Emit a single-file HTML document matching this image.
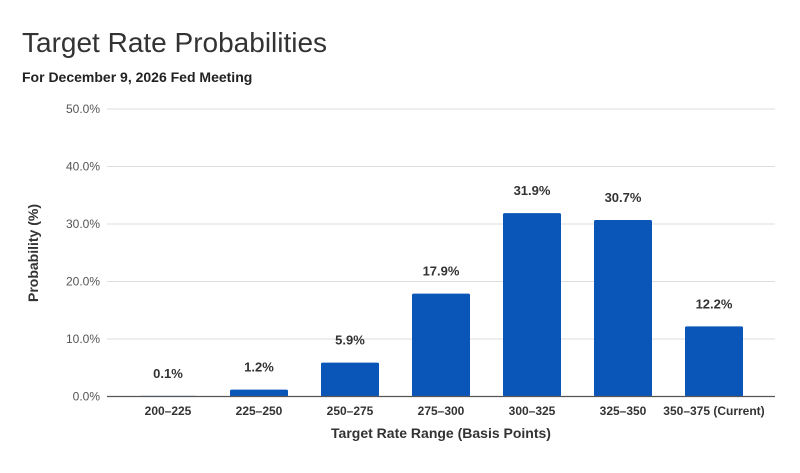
<!DOCTYPE html>
<html><head><meta charset="utf-8"><style>
body{margin:0;background:#fff;font-family:"Liberation Sans",Arial,sans-serif}
svg{display:block}
</style></head><body>
<svg width="800" height="473">
<text x="22" y="52" font-size="28" fill="#333">Target Rate Probabilities</text>
<text x="22" y="82" font-size="14" font-weight="bold" fill="#222">For December 9, 2026 Fed Meeting</text>
<g id="grid"></g><g id="bars"></g>
<text transform="translate(38,253) rotate(-90)" text-anchor="middle" font-size="14" font-weight="bold" fill="#333">Probability (%)</text>
<text x="441" y="438" text-anchor="middle" font-size="14" font-weight="bold" fill="#333">Target Rate Range (Basis Points)</text>
</svg>
<script>
const categories=["200–225","225–250","250–275","275–300","300–325","325–350","350–375 (Current)"];
const values=[0.1,1.2,5.9,17.9,31.9,30.7,12.2];
const labels=["0.1%","1.2%","5.9%","17.9%","31.9%","30.7%","12.2%"];
const yTicks=[0,10,20,30,40,50];
const ns="http://www.w3.org/2000/svg";
const y0=396.5,pxPer=5.75,bandL=122.5,bandW=91,barW=58;
const y=v=>y0-v*pxPer, xc=i=>bandL+bandW*(i+0.5);
function mk(t,a,p){const e=document.createElementNS(ns,t);for(const k in a)e.setAttribute(k,a[k]);p.appendChild(e);return e;}
const g=document.getElementById('grid'),b=document.getElementById('bars');
yTicks.forEach(t=>{
 if(t>0){const l=mk('line',{x1:107,x2:775,y1:y(t),y2:y(t),stroke:'#dcdcdc','stroke-width':1},g);
 
 }
 const tx=mk('text',{x:100,y:y(t)+4,'text-anchor':'end','font-size':12,fill:'#555'},g);tx.textContent=t.toFixed(1)+'%';
 
 
});
values.forEach((v,i)=>{
 const r=mk('rect',{x:xc(i)-barW/2,y:y(v),width:barW,height:Math.max(0,y0-y(v)),fill:'#0a56b8',rx:1.5},b);
 
 
 const lt=mk('text',{x:xc(i),y:y(v)-18,'text-anchor':'middle','font-size':13,'font-weight':'bold',fill:'#333'},b);lt.textContent=labels[i];
 
 
 const ct=mk('text',{x:xc(i),y:415,'text-anchor':'middle','font-size':12,'font-weight':'bold',fill:'#333'},b);ct.textContent=categories[i];
 
 
});
const ax=mk('line',{x1:107,x2:775,y1:y0,y2:y0,stroke:'#555','stroke-width':1.3},b);


</script>
</body></html>
